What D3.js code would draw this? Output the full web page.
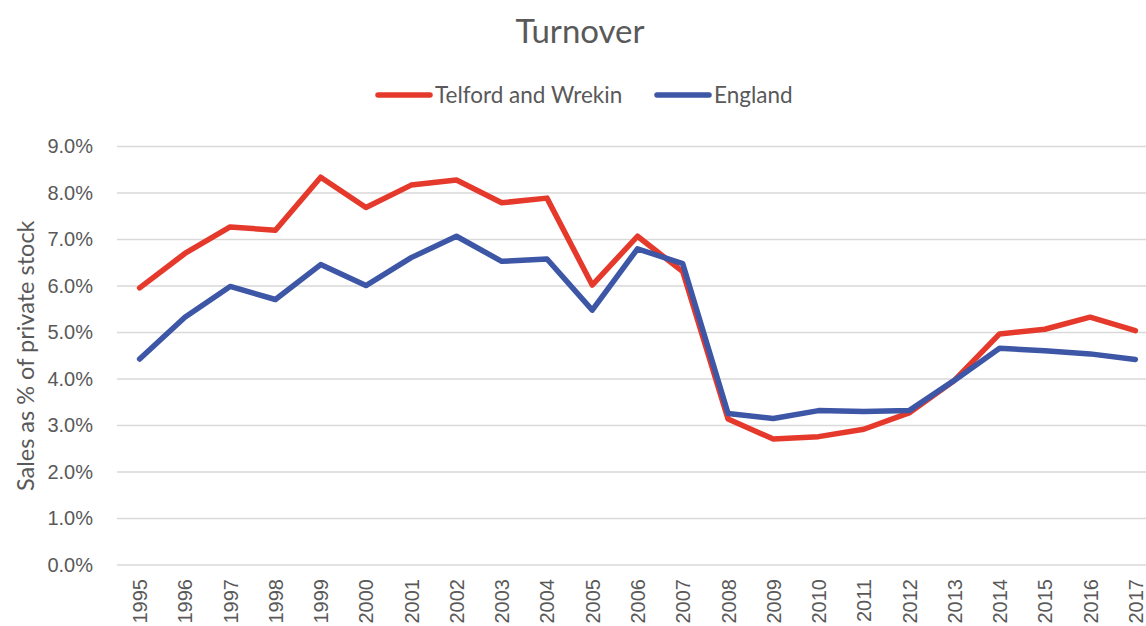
<!DOCTYPE html>
<html>
<head>
<meta charset="utf-8">
<script src="https://cdn.jsdelivr.net/npm/d3@7"></script>
<style>
  body { margin: 0; background: #fff; }
  svg { display: block; font-family: Lato, "Open Sans", sans-serif; }
</style>
</head>
<body>
<div id="chart"></div>
<script>
var width  = 1146;
var height = 626;

// Data (percent)
var years = ["1995","1996","1997","1998","1999","2000","2001","2002","2003","2004","2005",
             "2006","2007","2008","2009","2010","2011","2012","2013","2014","2015","2016","2017"];
var telford = [5.96, 6.70, 7.27, 7.20, 8.34, 7.69, 8.17, 8.28, 7.79, 7.89, 6.02,
               7.07, 6.31, 3.14, 2.71, 2.76, 2.92, 3.27, 3.97, 4.97, 5.07, 5.33, 5.04];
var england = [4.43, 5.33, 5.99, 5.71, 6.46, 6.01, 6.61, 7.07, 6.53, 6.58, 5.48,
               6.80, 6.48, 3.26, 3.15, 3.32, 3.30, 3.32, 3.97, 4.66, 4.61, 4.54, 4.42];
var yTicks = [0, 1, 2, 3, 4, 5, 6, 7, 8, 9];

var seriesNames = ["Telford and Wrekin", "England"];
var colors = ["#e5392b", "#3d56a6"];

// Plot area (right side runs past the frame, as in the original)
var m = { left: 117, right: 1158, top: 146.5, bottom: 565 };

var x = d3.scalePoint()
          .domain(years)
          .range([m.left, m.right])
          .padding(0.5);

var y = d3.scaleLinear()
          .domain([0, 9])
          .range([m.bottom, m.top]);

var svg = d3.select('#chart')
            .append('svg')
            .attr('width', width)
            .attr('height', height);

// Gridlines
svg.append('g')
   .selectAll('line')
   .data(yTicks)
   .enter()
   .append('line')
   .attr('x1', m.left)
   .attr('x2', m.right)
   .attr('y1', function(d) { return y(d); })
   .attr('y2', function(d) { return y(d); })
   .style('stroke', '#d9d9d9')
   .style('stroke-width', 1.5);

// Y axis labels
var yAxis = d3.axisLeft(y)
              .tickValues(yTicks)
              .tickSize(0)
              .tickPadding(0)
              .tickFormat(function(d) { return d.toFixed(1) + '%'; });

var yg = svg.append('g')
            .attr('transform', 'translate(93,0)')
            .call(yAxis);
yg.select('.domain').remove();
yg.selectAll('text')
  .style('font-size', '20px')
  .style('fill', '#595959');

// X axis labels, rotated
var xAxis = d3.axisBottom(x).tickSize(0).tickPadding(0);
var xg = svg.append('g')
            .attr('transform', 'translate(0,' + m.bottom + ')')
            .call(xAxis);
xg.select('.domain').remove();
xg.selectAll('text')
  .attr('transform', 'rotate(-90)')
  .attr('text-anchor', 'end')
  .attr('x', -14)
  .attr('y', 0)
  .attr('dy', '0.35em')
  .style('font-size', '20px')
  .style('fill', '#595959');

// Lines
var line = d3.line()
             .x(function(d, i) { return x(years[i]); })
             .y(function(d) { return y(d); });

[telford, england].forEach(function(vals, i) {
  svg.append('path')
     .datum(vals)
     .attr('d', line)
     .style('fill', 'none')
     .style('stroke', colors[i])
     .style('stroke-width', 5.5)
     .style('stroke-linejoin', 'round')
     .style('stroke-linecap', 'round');
});

// Title
svg.append('text')
   .attr('x', 580)
   .attr('y', 43)
   .attr('text-anchor', 'middle')
   .style('font-size', '33px')
   .style('fill', '#595959')
   .text('Turnover');

// Y axis title
svg.append('text')
   .attr('transform', 'translate(34,' + ((m.top + m.bottom) / 2) + ')rotate(-90)')
   .attr('text-anchor', 'middle')
   .style('font-size', '23.5px')
   .style('fill', '#595959')
   .text('Sales as % of private stock');

// Legend
var legendX = [378, 657];
var legend = svg.append('g')
                .selectAll('g')
                .data(seriesNames)
                .enter()
                .append('g')
                .attr('transform', function(d, i) { return 'translate(' + legendX[i] + ',95)'; });

legend.append('line')
      .attr('x1', 0)
      .attr('x2', 52)
      .style('stroke', function(d, i) { return colors[i]; })
      .style('stroke-width', 5.5)
      .style('stroke-linecap', 'round');

legend.append('text')
      .attr('x', 57)
      .attr('dy', '0.35em')
      .style('font-size', '22.5px')
      .style('fill', '#595959')
      .text(function(d) { return d; });
</script>
</body>
</html>
